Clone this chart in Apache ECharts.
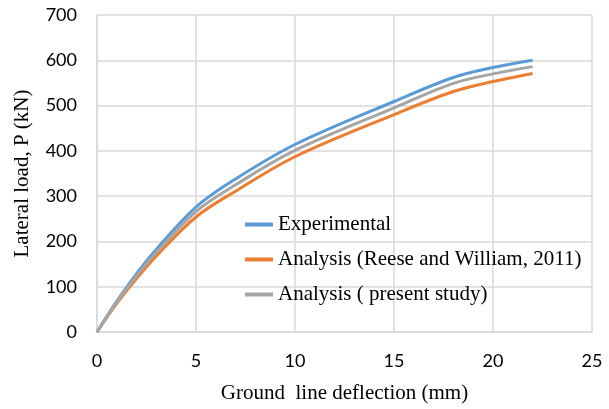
<!DOCTYPE html>
<html>
<head>
<meta charset="utf-8">
<script src="https://cdn.jsdelivr.net/npm/echarts@6/dist/echarts.min.js"></script>
<style>
  html, body { margin: 0; padding: 0; background: #fff; }
  #chart { width: 609px; height: 409px; }
</style>
</head>
<body>
<div id="chart"></div>
<script>
// ground line deflection (mm) / lateral load (kN)
const experimental = [[0, 0], [1, 68], [2, 129], [3, 183], [5, 276], [7, 338], [10, 414], [15, 509], [18, 562], [20, 584], [22, 600]];
const reese = [[0, 0], [1, 63], [2, 118], [3, 168], [5, 254], [7, 311], [10, 387], [15, 480], [18, 531], [20, 553], [22, 571]];
const present = [[0, 0], [1, 66], [2, 124], [3, 176], [5, 266], [7, 325], [10, 401], [15, 495], [18, 549], [20, 570], [22, 586]];

const seriesNames = ['Experimental', 'Analysis (Reese and William, 2011)', 'Analysis ( present study)'];
const colors = ['#5B9BD5', '#ED7D31', '#A5A5A5'];

const chart = echarts.init(document.getElementById('chart'));

const gridLine = { lineStyle: { color: '#D9D9D9', width: 1.5 } };
const tickFont = { fontFamily: 'Lato', fontSize: 18, color: '#000' };
const serifFont = { fontFamily: 'Liberation Serif', fontSize: 21, color: '#000' };

const option = {
  animation: false,
  color: colors,
  grid: { left: 97, right: 17, top: 15, bottom: 76 },
  legend: {
    orient: 'vertical',
    left: 240,
    top: 209,
    icon: 'rect',
    itemWidth: 28,
    itemHeight: 4,
    itemGap: 14,
    textStyle: Object.assign({}, serifFont, { lineHeight: 21 }),
    data: seriesNames
  },
  xAxis: {
    type: 'value',
    min: 0,
    max: 25,
    interval: 5,
    name: 'Ground  line deflection (mm)',
    nameLocation: 'middle',
    nameGap: 51,
    nameTextStyle: serifFont,
    axisLine: { lineStyle: { color: '#D9D9D9', width: 1.5 } },
    axisTick: { show: false },
    axisLabel: Object.assign({ margin: 20 }, tickFont),
    splitLine: Object.assign({ show: true }, gridLine)
  },
  yAxis: {
    type: 'value',
    min: 0,
    max: 700,
    interval: 100,
    name: 'Lateral load, P (kN)',
    nameLocation: 'middle',
    nameGap: 64,
    nameTextStyle: serifFont,
    axisLine: { show: true, lineStyle: { color: '#D9D9D9', width: 1.5 } },
    axisTick: { show: false },
    axisLabel: Object.assign({ margin: 20 }, tickFont),
    splitLine: gridLine
  },
  series: [experimental, reese, present].map((d, i) => ({
    name: seriesNames[i],
    type: 'line',
    data: d,
    smooth: 0.35,
    showSymbol: false,
    lineStyle: { width: 3, color: colors[i] }
  }))
};

chart.setOption(option);
</script>
</body>
</html>
